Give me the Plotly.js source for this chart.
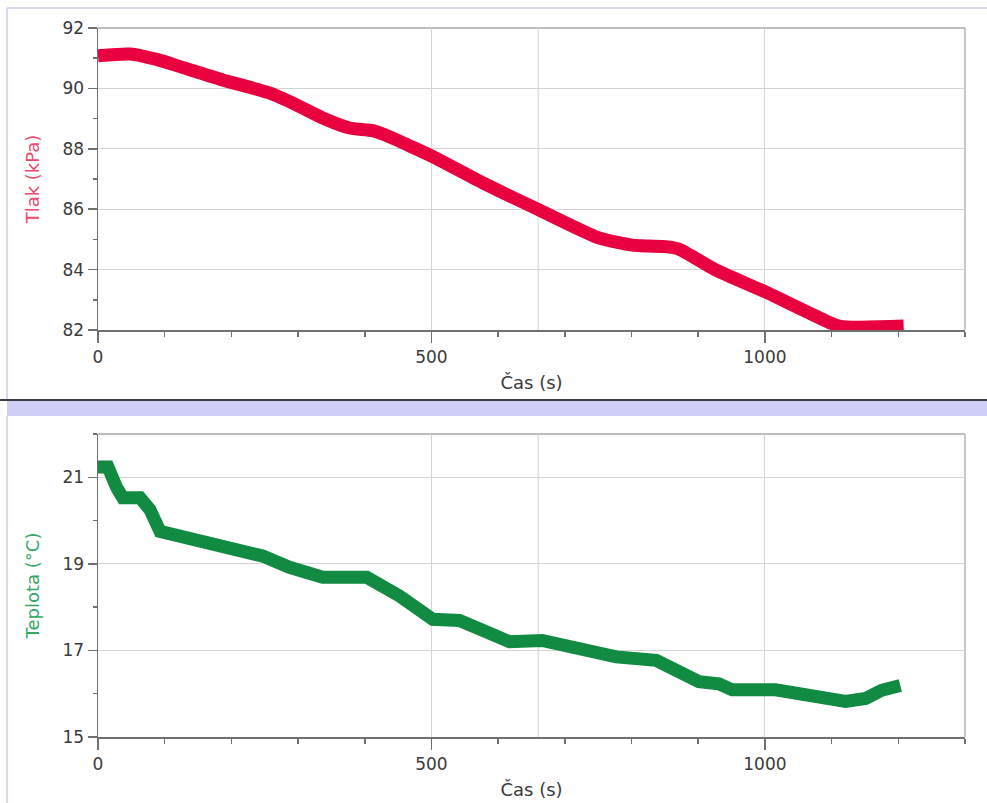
<!DOCTYPE html>
<html>
<head>
<meta charset="utf-8">
<script src="https://cdn.plot.ly/plotly-3.0.1.min.js"></script>
<style>
  html, body { margin: 0; padding: 0; background: #ffffff; }
  #chart { width: 987px; height: 803px; }
</style>
</head>
<body>
<div id="chart"></div>
<script>
// ---- Data ----
var timePressure = [0, 48, 88, 123, 187, 257, 298, 337, 377, 412, 437, 467, 502, 577, 662, 751, 801, 826, 851, 871, 926, 1000, 1066, 1111, 1208];
var pressure = [91.08, 91.14, 90.96, 90.72, 90.28, 89.85, 89.45, 89.02, 88.69, 88.6, 88.4, 88.1, 87.74, 86.87, 85.97, 85.05, 84.81, 84.78, 84.76, 84.68, 83.99, 83.27, 82.57, 82.13, 82.13];

var timeTemp = [0, 15, 28, 37, 63, 78, 93, 112, 163, 213, 247, 287, 337, 403, 452, 502, 542, 582, 617, 666, 717, 777, 837, 876, 901, 931, 951, 1016, 1051, 1081, 1121, 1151, 1175, 1203];
var temperature = [21.24, 21.24, 20.76, 20.53, 20.53, 20.25, 19.75, 19.68, 19.56, 19.38, 19.18, 18.92, 18.69, 18.69, 18.26, 17.72, 17.69, 17.43, 17.2, 17.23, 17.03, 16.85, 16.77, 16.42, 16.28, 16.23, 16.09, 16.09, 16.0, 15.85, 15.82, 15.89, 16.08, 16.19];

var xTitle = "Čas (s)";
var pressureTitle = "Tlak (kPa)";
var tempTitle = "Teplota (°C)";
var cursorTime = 660;

// ---- Layout helpers ----
var W = 987, H = 803;
var M = {l: 98, r: 22, t: 28, b: 66};
var PW = W - M.l - M.r, PH = H - M.t - M.b;
function px(x) { return (x - M.l) / PW; }
function py(y) { return (H - M.b - y) / PH; }

var fam = "DejaVu Sans, Liberation Sans, Arial, sans-serif";
var tickFont = {family: fam, size: 17, color: "#3a3a3a"};
var titleFont = {family: fam, size: 18, color: "#3a3a3a"};
var axisLine = "#707070";
var gridCol = "#d4d4d4";

function xAxis(anchor) {
  return {
    anchor: anchor,
    range: [0, 1300],
    tickmode: "linear", tick0: 0, dtick: 500,
    ticks: "outside", ticklen: 11, tickwidth: 1.5, tickcolor: axisLine,
    minor: {dtick: 100, tick0: 0, ticks: "outside", ticklen: 5, tickwidth: 1.5, tickcolor: axisLine, showgrid: false},
    showline: true, linecolor: axisLine, linewidth: 1.5,
    showgrid: true, gridcolor: gridCol, gridwidth: 1,
    zeroline: false,
    tickfont: tickFont,
    title: {text: xTitle, font: titleFont, standoff: 10}
  };
}
function yAxis(domain, range, dtick, title, color, anchor) {
  return {
    domain: domain,
    anchor: anchor,
    range: range,
    tickmode: "linear", tick0: range[0], dtick: dtick,
    ticks: "outside", ticklen: 9, tickwidth: 1.5, tickcolor: axisLine,
    minor: {dtick: dtick / 2, ticks: "outside", ticklen: 4, tickwidth: 1.5, tickcolor: axisLine, showgrid: false},
    showline: true, linecolor: axisLine, linewidth: 1.5,
    showgrid: true, gridcolor: gridCol, gridwidth: 1,
    zeroline: false,
    tickfont: tickFont,
    title: {text: title, font: {family: fam, size: 18, color: color}, standoff: 18}
  };
}

var topDomain = [py(330), 1];
var botDomain = [0, py(434)];

var traces = [
  {x: timePressure, y: pressure, xaxis: "x", yaxis: "y", type: "scatter", mode: "lines",
   line: {color: "#e8003f", width: 13, shape: "spline", smoothing: 0.6}, hoverinfo: "x+y"},
  {x: timeTemp, y: temperature, xaxis: "x2", yaxis: "y2", type: "scatter", mode: "lines",
   line: {color: "#118a42", width: 13}, hoverinfo: "x+y"}
];

var lav = "#cfcff5";
var shapes = [
  // frame of upper panel
  {type: "line", xref: "paper", yref: "paper", x0: px(7), x1: px(987), y0: py(8), y1: py(8), line: {color: "#d9d9f2", width: 2}, layer: "below"},
  {type: "line", xref: "paper", yref: "paper", x0: px(7), x1: px(7), y0: py(8), y1: py(400), line: {color: "#d9d9f2", width: 2}, layer: "below"},
  // separator band
  {type: "rect", xref: "paper", yref: "paper", x0: px(7), x1: px(987), y0: py(416), y1: py(401), fillcolor: lav, line: {width: 0}, layer: "below"},
  {type: "line", xref: "paper", yref: "paper", x0: px(0), x1: px(987), y0: py(400), y1: py(400), line: {color: "#3c3c48", width: 2}, layer: "below"},
  // frame of lower panel
  {type: "line", xref: "paper", yref: "paper", x0: px(7), x1: px(7), y0: py(416), y1: py(803), line: {color: "#d9d9f2", width: 2}, layer: "below"},
  // plot borders (top / right)
  {type: "line", xref: "x domain", yref: "y domain", x0: 0, x1: 1, y0: 1, y1: 1, line: {color: "#a8a8a8", width: 1.5}, layer: "below"},
  {type: "line", xref: "x domain", yref: "y domain", x0: 1, x1: 1, y0: 0, y1: 1, line: {color: "#b4b4b4", width: 1.5}, layer: "below"},
  {type: "line", xref: "x2 domain", yref: "y2 domain", x0: 0, x1: 1, y0: 1, y1: 1, line: {color: "#a8a8a8", width: 1.5}, layer: "below"},
  {type: "line", xref: "x2 domain", yref: "y2 domain", x0: 1, x1: 1, y0: 0, y1: 1, line: {color: "#b4b4b4", width: 1.5}, layer: "below"},
  // examine-cursor gridline
  {type: "line", xref: "x", yref: "y domain", x0: cursorTime, x1: cursorTime, y0: 0, y1: 1, line: {color: gridCol, width: 1}, layer: "below"},
  {type: "line", xref: "x2", yref: "y2 domain", x0: cursorTime, x1: cursorTime, y0: 0, y1: 1, line: {color: gridCol, width: 1}, layer: "below"}
];

var layout = {
  width: W, height: H,
  margin: M,
  paper_bgcolor: "#ffffff",
  plot_bgcolor: "rgba(0,0,0,0)",
  showlegend: false,
  font: tickFont,
  xaxis: xAxis("y"),
  yaxis: yAxis(topDomain, [82, 92], 2, pressureTitle, "#ec4a6c", "x"),
  xaxis2: xAxis("y2"),
  yaxis2: yAxis(botDomain, [15, 22], 2, tempTitle, "#34a865", "x2"),
  shapes: shapes
};

Plotly.newPlot("chart", traces, layout, {displayModeBar: false, staticPlot: true});
</script>
</body>
</html>
